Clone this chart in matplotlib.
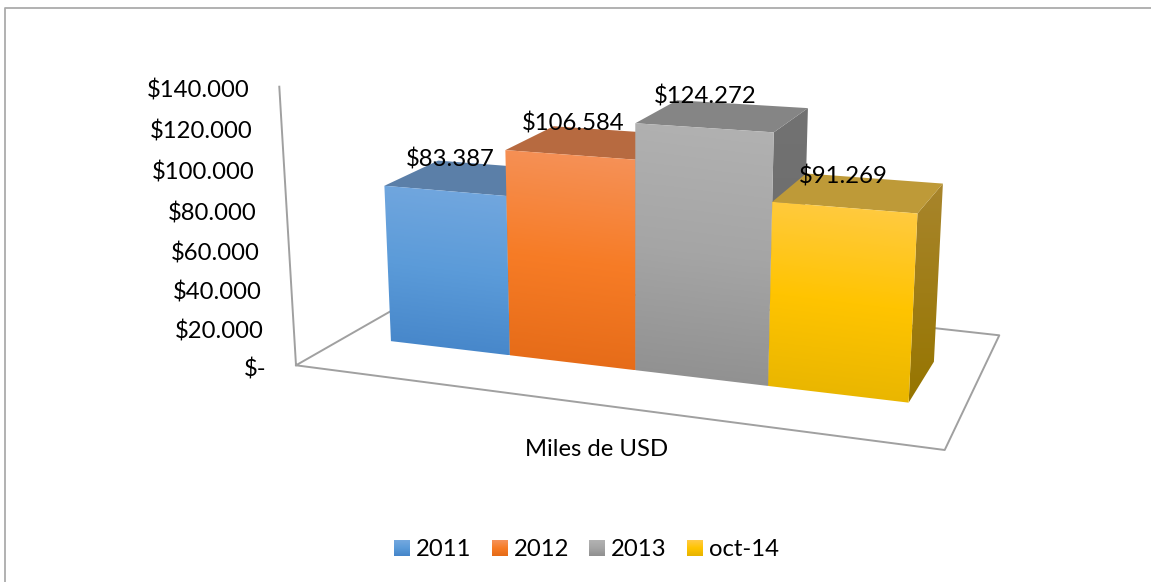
import numpy as np
import matplotlib
matplotlib.use('Agg')
import matplotlib.pyplot as plt
from matplotlib.colors import LinearSegmentedColormap
from matplotlib.patches import Polygon

categories = ['2011', '2012', '2013', 'oct-14']
values = [83387, 106584, 124272, 91269]
value_labels = ['$83.387', '$106.584', '$124.272', '$91.269']
ticks = [0, 20000, 40000, 60000, 80000, 100000, 120000, 140000]
tick_labels = ['$-', '$20.000', '$40.000', '$60.000', '$80.000', '$100.000', '$120.000', '$140.000']
axis_title = 'Miles de USD'

front_colors = [['#74A8DF', '#5B9BD9', '#4484C8'],
                ['#F5935C', '#F77C26', '#E46A17'],
                ['#B2B2B2', '#A5A5A5', '#8F8F8F'],
                ['#FFCB47', '#FFC400', '#E6B400']]
top_colors = ['#5B7FA8', '#B76A40', '#858585', '#BE9A38']
side_colors = [['#3F6A98', '#33587F'], ['#B05A20', '#964C18'],
               ['#727272', '#6A6A6A'], ['#A8852C', '#967500']]
line_color = '#A0A0A0'
font_size = 17.2

# picture points used to fit the camera: (bar edge, depth, value) -> pixel
camera_points = [
    (0, 0, 0, 391.3, 341.3), (1, 0, 0, 509.7, 355.3), (2, 0, 0, 635.7, 370.7),
    (3, 0, 0, 767.7, 386.7), (4, 0, 0, 908.7, 403.3), (4, 1, 0, 934, 360),
    (0, 0, values[0], 385, 185.7), (1, 0, values[0], 506.7, 195.7), (0, 1, values[0], 437, 160),
    (1, 0, values[1], 505.7, 149.3),
    (2, 0, values[2], 635, 122.7), (3, 0, values[2], 773.3, 131.3),
    (2, 1, values[2], 676.7, 103), (3, 1, values[2], 809.3, 108),
    (3, 0, values[3], 771.7, 202), (4, 0, values[3], 917.3, 214), (4, 1, values[3], 943, 183.3),
]

def fit_camera(points):
    rows = []
    for i, d, v, px, py in points:
        w = v / 100000
        rows.append([i, d, w, 1, 0, 0, 0, 0, -px*i, -px*d, -px*w, -px])
        rows.append([0, 0, 0, 0, i, d, w, 1, -py*i, -py*d, -py*w, -py])
    return np.linalg.svd(np.array(rows))[2][-1].reshape(3, 4)

cam = fit_camera(camera_points)

def project(i, d, v):
    p = cam @ np.array([i, d, v / 100000, 1])
    return p[0] / p[2], p[1] / p[2]

def floor_point(px, py):
    # pixel on the floor back to (bar edge, depth)
    h = cam[:, [0, 1, 3]]
    q = np.linalg.solve(h, [px, py, 1])
    return q[0] / q[2], q[1] / q[2]

def gradient_poly(ax, pts, colors, slope=0.12, z=2):
    pts = np.array(pts)
    x0, y0 = pts.min(axis=0)
    x1, y1 = pts.max(axis=0)
    xx, yy = np.meshgrid(np.linspace(x0, x1, 200), np.linspace(y0, y1, 300))
    t = yy - slope * (xx - x0)
    t = (t - t.min()) / (t.max() - t.min())
    cmap = LinearSegmentedColormap.from_list('g', colors)
    im = ax.imshow(t, extent=(x0, x1, y1, y0), cmap=cmap, vmin=0, vmax=1, aspect='auto', zorder=z, interpolation='bilinear')
    im.set_clip_path(Polygon(pts, closed=True, transform=ax.transData))

fig = plt.figure(figsize=(11.51, 5.82), dpi=100)
ax = fig.add_axes([0, 0, 1, 1])
plt.rcParams['font.family'] = ['Lato', 'DejaVu Sans']

# chart border
ax.plot([5, 5, 1151], [582, 8, 8], color='#ABABAB', lw=1.3, zorder=1)

# floor and value axis
corner = (296, 365.3)
ax.plot([279.3, corner[0], 944.7, 999.3, 454, corner[0]],
        [86.7, corner[1], 450, 335.3, 275, corner[1]], color=line_color, lw=1.4, zorder=1)

# bars, left to right so the nearer faces cover the earlier ones
for n, v in enumerate(values):
    a, b = n, n + 1
    side = [project(b, 0, v), project(b, 1, v), project(b, 1, 0), project(b, 0, 0)]
    gradient_poly(ax, side, side_colors[n], slope=0, z=2 + n)
    top = [project(a, 0, v), project(b, 0, v), project(b, 1, v), project(a, 1, v)]
    ax.add_patch(Polygon(top, closed=True, facecolor=top_colors[n], edgecolor='none', zorder=2 + n))
    front = [project(a, 0, v), project(b, 0, v), project(b, 0, 0), project(a, 0, 0)]
    gradient_poly(ax, front, front_colors[n], z=2 + n)

for n, v in enumerate(values):
    x, y = project(n + 0.5, 0, v)
    ax.text(x + 2 * (3 - n), y - 31, value_labels[n], ha='center', va='center', fontsize=font_size, color='black', zorder=10)

# value axis labels follow the leaning axis
ci, cd = floor_point(*corner)
for v, lab in zip(ticks, tick_labels):
    x, y = project(ci, cd, v)
    ax.text(x - 30, y + 4.5 - 4 * v / ticks[-1], lab, ha='right', va='center', fontsize=font_size, color='black', zorder=10)

ax.text(597, 450, axis_title, ha='center', va='center', fontsize=font_size, color='black', zorder=10)

# legend
swatch_x = [394, 492, 589, 687]
for n, name in enumerate(categories):
    x = swatch_x[n]
    gradient_poly(ax, [(x, 540), (x + 16, 540), (x + 16, 556), (x, 556)], front_colors[n], slope=0, z=5)
    ax.text(x + 22, 549, name, ha='left', va='center', fontsize=font_size, color='black', zorder=10)

ax.set_xlim(0, 1151)
ax.set_ylim(582, 0)
ax.axis('off')
fig.savefig('out.png', dpi=100, facecolor='white')
